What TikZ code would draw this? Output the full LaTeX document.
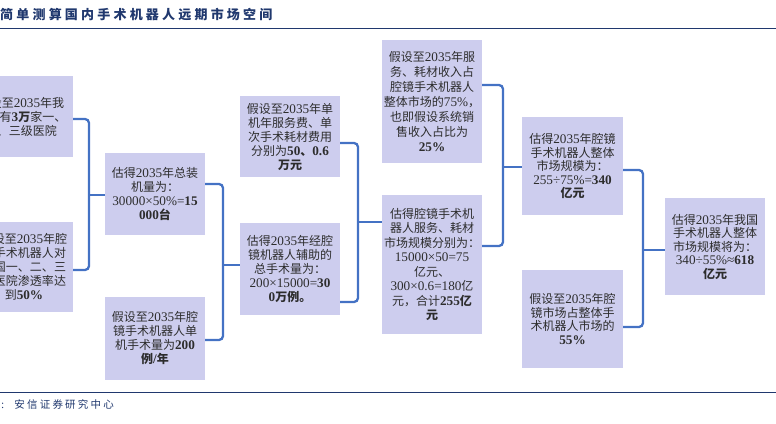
\documentclass[tikz,border=0pt]{standalone}
\usepackage{fontspec}
\setmainfont{Liberation Serif}[Scale=1.1]
\newfontfamily\cjkfont{Noto Sans CJK SC}
\XeTeXinterchartokenstate=1
\newXeTeXintercharclass\CJKclass
\count255="3000
\loop \XeTeXcharclass\count255=\CJKclass \ifnum\count255<"9FFF \advance\count255 by 1 \repeat
\count255="FF00
\loop \XeTeXcharclass\count255=\CJKclass \ifnum\count255<"FFEF \advance\count255 by 1 \repeat
\XeTeXinterchartoks 0 \CJKclass={\begingroup\cjkfont}
\XeTeXinterchartoks 4095 \CJKclass={\begingroup\cjkfont}
\XeTeXinterchartoks \CJKclass 0={\endgroup}
\XeTeXinterchartoks \CJKclass 4095={\endgroup}
\definecolor{boxc}{RGB}{205,205,238}
\definecolor{txtc}{RGB}{45,45,45}
\definecolor{linec}{RGB}{68,114,196}
\definecolor{navy}{RGB}{32,56,110}
\tikzset{
  bx/.style 2 args={fill=boxc, text=txtc, align=center, inner sep=0pt,
    minimum width=#1, minimum height=#2,
    font=\fontsize{12pt}{14pt}\selectfont},
  conn/.style={draw=linec, line width=2.3pt, rounded corners=4pt}
}
\begin{document}
\begin{tikzpicture}[x=1pt,y=-1pt]
\useasboundingbox (0,0) rectangle (776,423);
% title
\node[anchor=base west, inner sep=0pt, text=navy, font=\fontsize{13pt}{15pt}\selectfont\bfseries] (title) at (0,19)
 {简\kern3.2pt单\kern3.2pt测\kern3.2pt算\kern3.2pt国\kern3.2pt内\kern3.2pt手\kern3.2pt术\kern3.2pt机\kern3.2pt器\kern3.2pt人\kern3.2pt远\kern3.2pt期\kern3.2pt市\kern3.2pt场\kern3.2pt空\kern3.2pt间};
\draw[draw=navy, line width=0.8pt] (0,28) -- (776,28);
\draw[draw=navy, line width=0.8pt] (0,392) -- (776,392);
\node[anchor=base west, inner sep=0pt, text=navy, font=\fontsize{10.5pt}{12pt}\selectfont] (src) at (1,408)
 {:\kern10pt 安\kern2.2pt信\kern2.2pt证\kern2.2pt券\kern2.2pt研\kern2.2pt究\kern2.2pt中\kern2.2pt心};

% boxes
\node[bx={104pt}{81pt}] (A1) at (21,116.5) {假设至2035年我\\国共有\textbf{3万}家一、\\二、三级医院};
\node[bx={98pt}{90pt}] (A2) at (24,267) {假设至2035年腔\\镜手术机器人对\\我国一、二、三\\级医院渗透率达\\到\textbf{50\%}};
\node[bx={100pt}{82pt}] (B1) at (155,194) {估得2035年总装\\机量为：\\30000×50\%=\textbf{15}\\\textbf{000台}};
\node[bx={100pt}{83pt}] (B2) at (155,338.5) {假设至2035年腔\\镜手术机器人单\\机手术量为\textbf{200}\\\textbf{例/年}};
\node[bx={100pt}{81pt}] (C1) at (290,136.5) {假设至2035年单\\机年服务费、单\\次手术耗材费用\\分别为\textbf{50、0.6}\\\textbf{万元}};
\node[bx={100pt}{92pt}] (C2) at (290,269) {估得2035年经腔\\镜机器人辅助的\\总手术量为：\\200×15000=\textbf{30}\\\textbf{0万例。}};
\node[bx={100pt}{123pt}, font=\fontsize{12pt}{15pt}\selectfont] (D1) at (432,101.5) {假设至2035年服\\务、耗材收入占\\腔镜手术机器人\\整体市场的75\%，\\也即假设系统销\\售收入占比为\\\textbf{25\%}};
\node[bx={100pt}{139pt}, font=\fontsize{12pt}{14.5pt}\selectfont] (D2) at (432,264.5) {估得腔镜手术机\\器人服务、耗材\\市场规模分别为：\\15000×50=75\\亿元、\\300×0.6=180亿\\元，合计\textbf{255亿}\\\textbf{元}};
\node[bx={101pt}{98pt}, font=\fontsize{12pt}{13.5pt}\selectfont] (E1) at (572.5,166) {估得2035年腔镜\\手术机器人整体\\市场规模为：\\255÷75\%=\textbf{340}\\\textbf{亿元}};
\node[bx={101pt}{98pt}, font=\fontsize{12pt}{13.5pt}\selectfont] (E2) at (572.5,319) {假设至2035年腔\\镜市场占整体手\\术机器人市场的\\\textbf{55\%}};
\node[bx={100pt}{97pt}, font=\fontsize{12pt}{13.5pt}\selectfont] (F) at (715,246.5) {估得2035年我国\\手术机器人整体\\市场规模将为：\\340÷55\%≈\textbf{618}\\\textbf{亿元}};

% junctions
\coordinate (j1) at (89,195);
\coordinate (j2) at (223,265);
\coordinate (j3) at (358,222);
\coordinate (j4) at (503,167);
\coordinate (j5) at (643,250);

\draw[conn] ([yshift=-2.5pt]A1.east) -| (j1) |- ([yshift=-3pt]A2.east);
\draw[conn] (j1) -- (B1.west |- j1);
\draw[conn] ([yshift=10pt]B1.east) -| (j2) |- ([yshift=-1.5pt]B2.east);
\draw[conn] (j2) -- (C2.west |- j2);
\draw[conn] ([yshift=-6.5pt]C1.east) -| (j3) |- ([yshift=-33pt]C2.east);
\draw[conn] (j3) -- (D2.west |- j3);
\draw[conn] ([yshift=16.5pt]D1.east) -| (j4) |- ([yshift=18.5pt]D2.east);
\draw[conn] (j4) -- (E1.west |- j4);
\draw[conn] ([yshift=-4pt]E1.east) -| (j5) |- ([yshift=-8pt]E2.east);
\draw[conn] (j5) -- (F.west |- j5);
\end{tikzpicture}
\end{document}
